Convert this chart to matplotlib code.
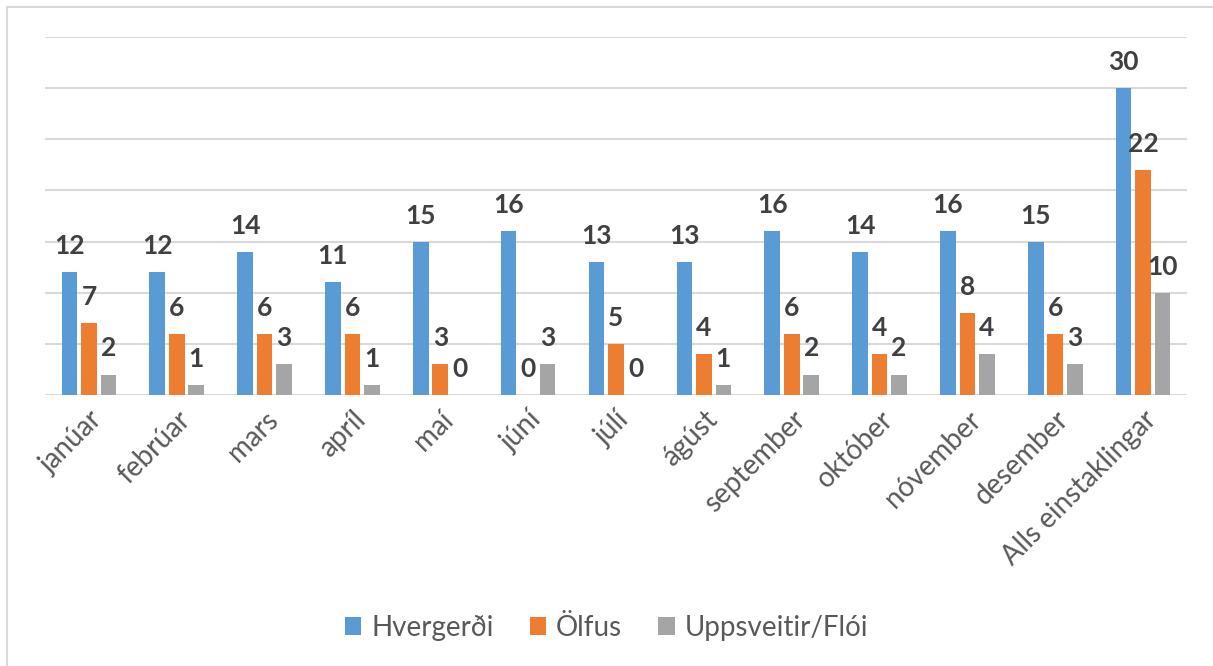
import numpy as np
import matplotlib.pyplot as plt
from matplotlib.lines import Line2D

plt.rcParams['font.family'] = ['Lato', 'DejaVu Sans']

# Gögn
flokkar = ["janúar", "febrúar", "mars", "apríl", "maí", "júní", "júlí", "ágúst",
           "september", "október", "nóvember", "desember", "Alls einstaklingar"]
hveragerdi = [12, 12, 14, 11, 15, 16, 13, 13, 16, 14, 16, 15, 30]
olfus = [7, 6, 6, 6, 3, 0, 5, 4, 6, 4, 8, 6, 22]
uppsveitir = [2, 1, 3, 1, 0, 3, 0, 1, 2, 2, 4, 3, 10]
nofn = ["Hvergerði", "Ölfus", "Uppsveitir/Flói"]
litir = ["#5B9BD5", "#ED7D31", "#A5A5A5"]

fig = plt.figure(figsize=(12.13, 6.66), dpi=100)
ax = fig.add_axes([45 / 1213, 1 - 395 / 666, (1187 - 45) / 1213, (395 - 37) / 666])

x = np.arange(len(flokkar))
bil = 0.222
breidd = 0.178
for i, (gildi, nafn, litur) in enumerate(zip([hveragerdi, olfus, uppsveitir], nofn, litir)):
    stolpar = ax.bar(x + (i - 1) * bil, gildi, breidd, color=litur, label=nafn, zorder=3)
    for s, v in zip(stolpar, gildi):
        ax.annotate(str(v), (s.get_x() + s.get_width() / 2, v), xytext=(0, 13),
                    textcoords="offset points", ha="center", va="baseline",
                    fontsize=19, fontweight="bold", color="#404040", zorder=4)

ax.set_xlim(-0.5, len(flokkar) - 0.5)
ax.set_ylim(0, 35)
ax.set_yticks(np.arange(0, 36, 5))
ax.yaxis.grid(True, color="#D9D9D9", linewidth=1.5, zorder=0)
ax.tick_params(axis="y", length=0, labelleft=False)
ax.tick_params(axis="x", length=0, pad=8)
for sp in ax.spines.values():
    sp.set_visible(False)

ax.set_xticks(x)
ax.set_xticklabels(flokkar, rotation=45, ha="right", va="top", rotation_mode="anchor",
                   fontsize=20, color="#595959")

ax.legend(loc="center", bbox_to_anchor=(0.5, 0.057), bbox_transform=fig.transFigure,
          ncol=3, frameon=False, fontsize=20, labelcolor="#595959",
          handlelength=0.6, handleheight=0.6, handletextpad=0.35, columnspacing=1.3)

# rammi
fig.add_artist(Line2D([7 / 1213, 7 / 1213], [0, 1 - 7 / 666], transform=fig.transFigure,
                      color="#D9D9D9", linewidth=1.5))
fig.add_artist(Line2D([7 / 1213, 1], [1 - 7 / 666, 1 - 7 / 666], transform=fig.transFigure,
                      color="#D9D9D9", linewidth=1.5))

fig.savefig("out.png", dpi=100)
